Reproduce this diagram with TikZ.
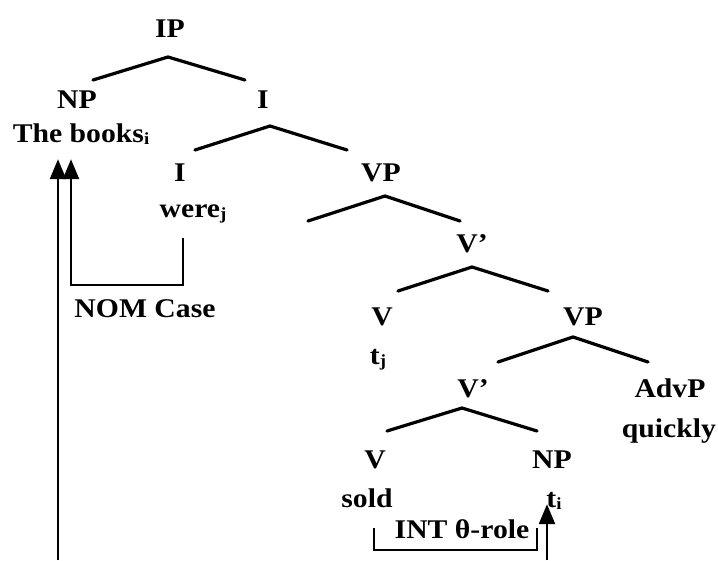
\documentclass[tikz,border=0pt]{standalone}
\usepackage{fontspec}
\setmainfont{Liberation Serif}[FakeStretch=1.1]
\usetikzlibrary{arrows.meta}
% index letters under the words
\newcommand{\idx}[1]{\raisebox{-2pt}{\fontsize{17}{17}\selectfont #1}}

\begin{document}
\begin{tikzpicture}[x=1pt, y=-1pt,
  lab/.style={anchor=base, inner sep=0pt, font=\fontsize{27}{30}\selectfont\bfseries},
  branch/.style={line width=3.2pt, line cap=round, line join=round},
  trace/.style={line width=2.4pt, -{Triangle[width=16pt,length=20pt]}},
  bracket/.style={line width=2pt}]
\useasboundingbox (0,0) rectangle (718,560);

% labels of the tree
\node[lab] (ip) at (170,37) {IP};
\node[lab] (np) at (77,108) {NP};
\node[lab] (i1) at (263,108) {I};
\node[lab] (books) at (81,142) {The books\idx{i}};
\node[lab] (i2) at (180,181) {I};
\node[lab] (were) at (193,217) {were\idx{j}};
\node[lab] (vp1) at (381,181) {VP};
\node[lab] (vbar1) at (472,252) {V’};
\node[lab] (v1) at (382,325) {V};
\node[lab] (vp2) at (583,325) {VP};
\node[lab] (tj) at (378,364) {t\idx{j}};
\node[lab] (vbar2) at (473,397) {V’};
\node[lab] (advp) at (670,397) {AdvP};
\node[lab] (quickly) at (669,437) {quickly};
\node[lab] (v2) at (375,468) {V};
\node[lab] (np2) at (552,468) {NP};
\node[lab] (sold) at (367,507) {sold};
\node[lab] (ti) at (554,507) {t\idx{i}};
\node[lab] (nom) at (145,317) {NOM Case};
\node[lab] (int) at (462,538) {INT θ-role};

% branch points
\coordinate (ip-l) at (93,80);   \coordinate (ip-t) at (168,57);   \coordinate (ip-r) at (245,80);
\coordinate (i1-l) at (195,150); \coordinate (i1-t) at (270,126);  \coordinate (i1-r) at (347,150);
\coordinate (vp1-l) at (308,221); \coordinate (vp1-t) at (385,196); \coordinate (vp1-r) at (460,221);
\coordinate (vb1-l) at (398,291); \coordinate (vb1-t) at (472,267); \coordinate (vb1-r) at (548,291);
\coordinate (vp2-l) at (498,362); \coordinate (vp2-t) at (573,337); \coordinate (vp2-r) at (648,362);
\coordinate (vb2-l) at (387,431); \coordinate (vb2-t) at (462,408); \coordinate (vb2-r) at (537,431);

\draw[branch] (ip-l) -- (ip-t) -- (ip-r);
\draw[branch] (i1-l) -- (i1-t) -- (i1-r);
\draw[branch] (vp1-l) -- (vp1-t) -- (vp1-r);
\draw[branch] (vb1-l) -- (vb1-t) -- (vb1-r);
\draw[branch] (vp2-l) -- (vp2-t) -- (vp2-r);
\draw[branch] (vb2-l) -- (vb2-t) -- (vb2-r);

% chains
\coordinate (foot-l) at (58,560);
\coordinate (foot-r) at (547,560);
\draw[trace] (foot-l) -- ([xshift=-23,yshift=-15]books.south);
\draw[trace] ([xshift=-10,yshift=-15]were.south) -- ++(0,47) -| ([xshift=-10,yshift=-15]books.south);
\draw[bracket] ([xshift=7,yshift=-21]sold.south) -- ++(0,22) -- ++(163,0) -- ++(0,-22);
\draw[trace] (foot-r) -- ([xshift=-7,yshift=5]ti.south);
\end{tikzpicture}
\end{document}
